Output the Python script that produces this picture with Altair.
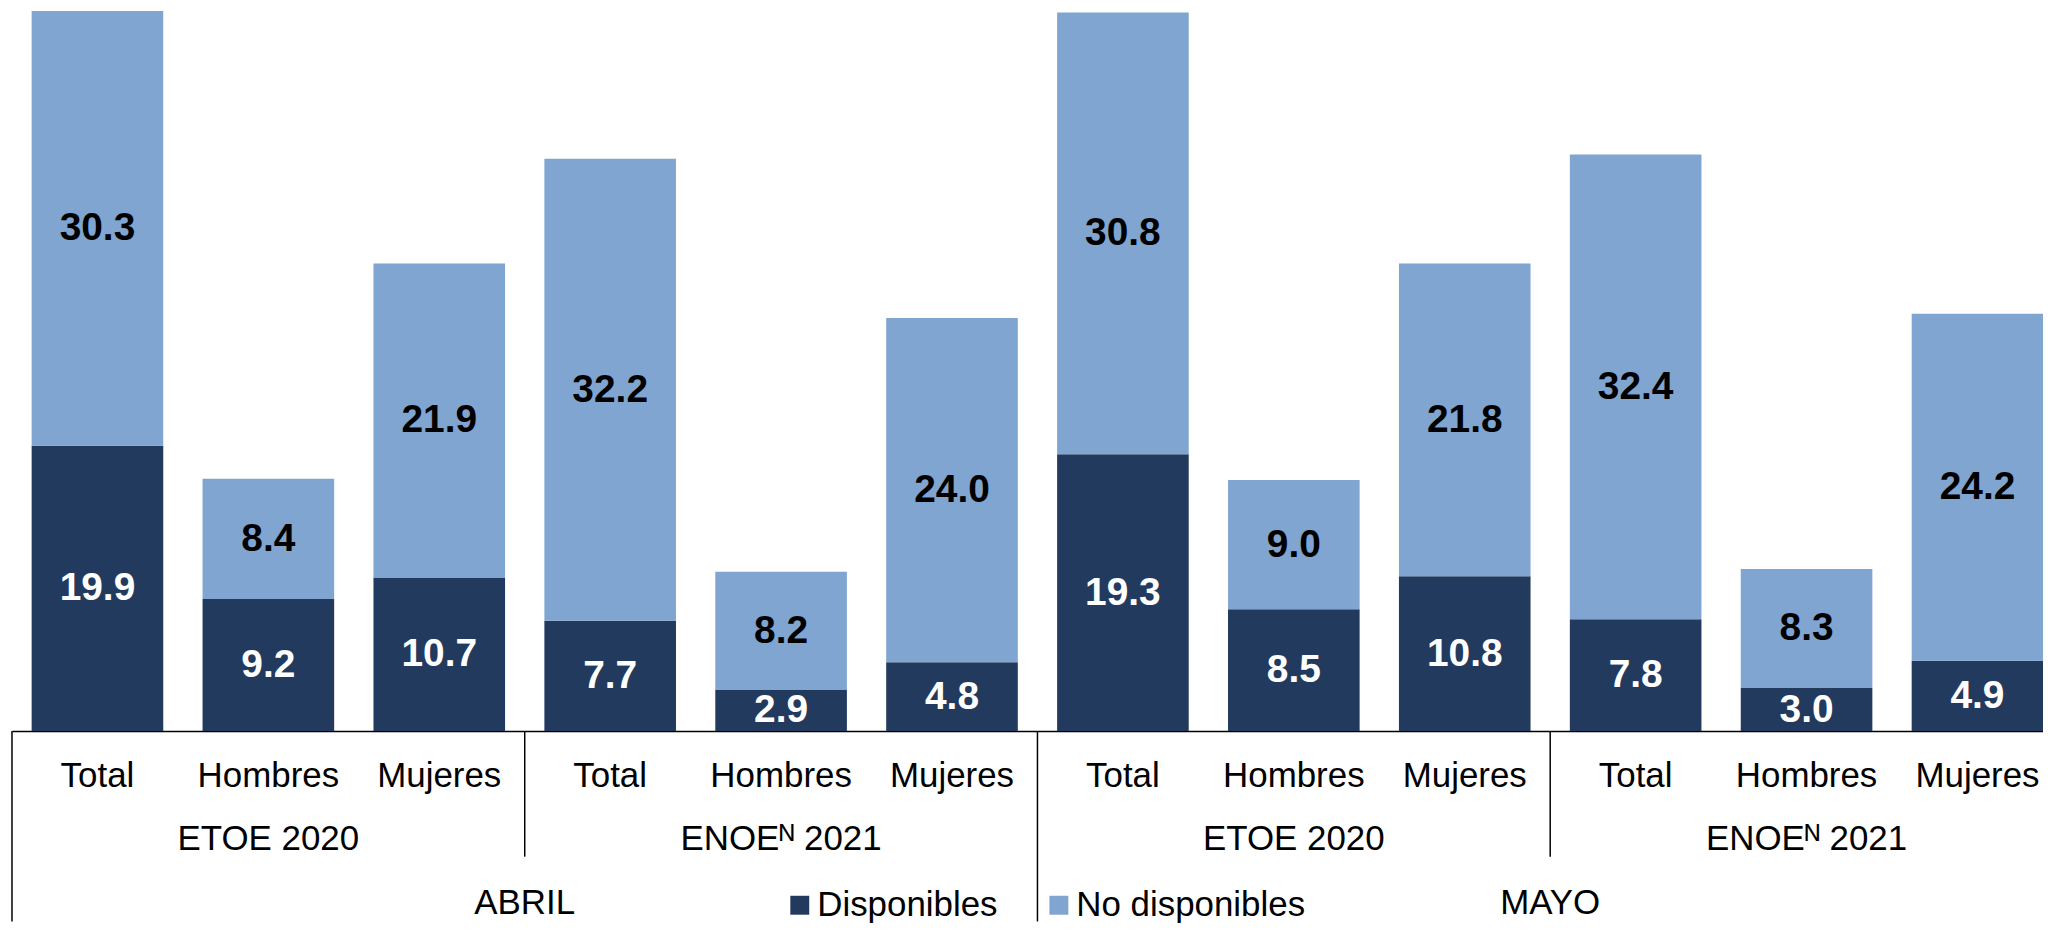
import altair as alt
import pandas as pd

FONT = "Liberation Sans"

# ---- data ----
months = ["ABRIL", "MAYO"]
surveys = ["ETOE 2020", "ENOE\u1d3a 2021"]
sexes = ["Total", "Hombres", "Mujeres"]
series = ["Disponibles", "No disponibles"]
disponibles = [19.9, 9.2, 10.7, 7.7, 2.9, 4.8, 19.3, 8.5, 10.8, 7.8, 3.0, 4.9]
no_disponibles = [30.3, 8.4, 21.9, 32.2, 8.2, 24.0, 30.8, 9.0, 21.8, 32.4, 8.3, 24.2]
colors = ["#223A5E", "#7FA5D0"]

# ---- tables built from the lists ----
slot_rows = []
i = 0
for m in months:
    for s in surveys:
        for sex in sexes:
            slot_rows.append(dict(slot=f"{m}|{s}|{sex}", month=m, survey=s, sex=sex, idx=i))
            i += 1
slots_df = pd.DataFrame(slot_rows)
slot_keys = list(slots_df["slot"])

bar_rows = []
for k, r in enumerate(slot_rows):
    bar_rows.append(dict(slot=r["slot"], series=series[0], ord=0, value=disponibles[k]))
    bar_rows.append(dict(slot=r["slot"], series=series[1], ord=1, value=no_disponibles[k]))
bars_df = pd.DataFrame(bar_rows)

groups_df = slots_df[slots_df["sex"] == "Hombres"]
month_df = slots_df[slots_df["idx"] % 6 == 3]
long_sep_df = slots_df[slots_df["idx"] % 6 == 0]
short_sep_df = slots_df[slots_df["idx"] % 6 == 3]

xscale = alt.Scale(domain=slot_keys, range=[0, 2058], paddingInner=0, paddingOuter=0)
yscale = alt.Scale(domain=[0, 50.3], nice=False, zero=True)


def X(**kw):
    return alt.X("slot:N", scale=xscale, title=None, sort=slot_keys, **kw)


bars = alt.Chart(bars_df).mark_bar(width=alt.RelativeBandSize(0.77)).encode(
    x=X(),
    y=alt.Y("value:Q", stack="zero", scale=yscale, axis=None),
    color=alt.Color(
        "series:N",
        scale=alt.Scale(domain=series, range=colors),
        legend=alt.Legend(
            orient="none", legendX=773, legendY=881, direction="horizontal",
            title=None, symbolType="square", symbolSize=361, symbolStrokeWidth=0,
            symbolOpacity=1, labelFont=FONT, labelFontSize=35, labelColor="black",
            labelOffset=0, labelLimit=600, columnPadding=44, padding=0,
        ),
    ),
    order=alt.Order("ord:Q"),
)

values = alt.Chart(bars_df).transform_stack(
    stack="value", groupby=["slot"], as_=["y0", "y1"],
    sort=[alt.SortField("ord", order="ascending")],
).transform_calculate(mid="(datum.y0 + datum.y1) / 2").mark_text(
    font=FONT, fontSize=39, fontWeight="bold", baseline="middle", align="center"
).encode(
    x=X(),
    y=alt.Y("mid:Q", scale=yscale, axis=None),
    text=alt.Text("value:Q", format=".1f"),
    color=alt.condition("datum.series == 'Disponibles'", alt.value("white"), alt.value("black")),
)

cat_labels = alt.Chart(slots_df).mark_text(
    font=FONT, fontSize=35, baseline="alphabetic", align="center", color="black"
).encode(x=X(), y=alt.value(780), text="sex:N")

grp_labels = alt.Chart(groups_df).mark_text(
    font=FONT, fontSize=35, baseline="alphabetic", align="center", color="black"
).encode(x=X(), y=alt.value(843), text="survey:N")

mon_labels = alt.Chart(month_df).mark_text(
    font=FONT, fontSize=35, baseline="alphabetic", align="center", color="black"
).encode(x=X(bandPosition=0), y=alt.value(908), text="month:N")

long_rules = alt.Chart(long_sep_df).mark_rule(color="black", strokeWidth=1.5).encode(
    x=X(bandPosition=0), y=alt.value(724), y2=alt.value(915)
)
short_rules = alt.Chart(short_sep_df).mark_rule(color="black", strokeWidth=1.5).encode(
    x=X(bandPosition=0), y=alt.value(724), y2=alt.value(850)
)

chart = alt.layer(
    bars, values, cat_labels, grp_labels, mon_labels, long_rules, short_rules
).properties(
    width=2038, height=724,
    padding={"left": 4, "top": 0, "right": 0, "bottom": 194},
    autosize=alt.AutoSizeParams(type="none"),
).configure_view(stroke=None).configure_axisX(
    labels=False, ticks=False, grid=False, domain=True, domainColor="black", domainWidth=1.5
)

chart.save("out.html", embed_options={"renderer": "svg", "actions": False})
